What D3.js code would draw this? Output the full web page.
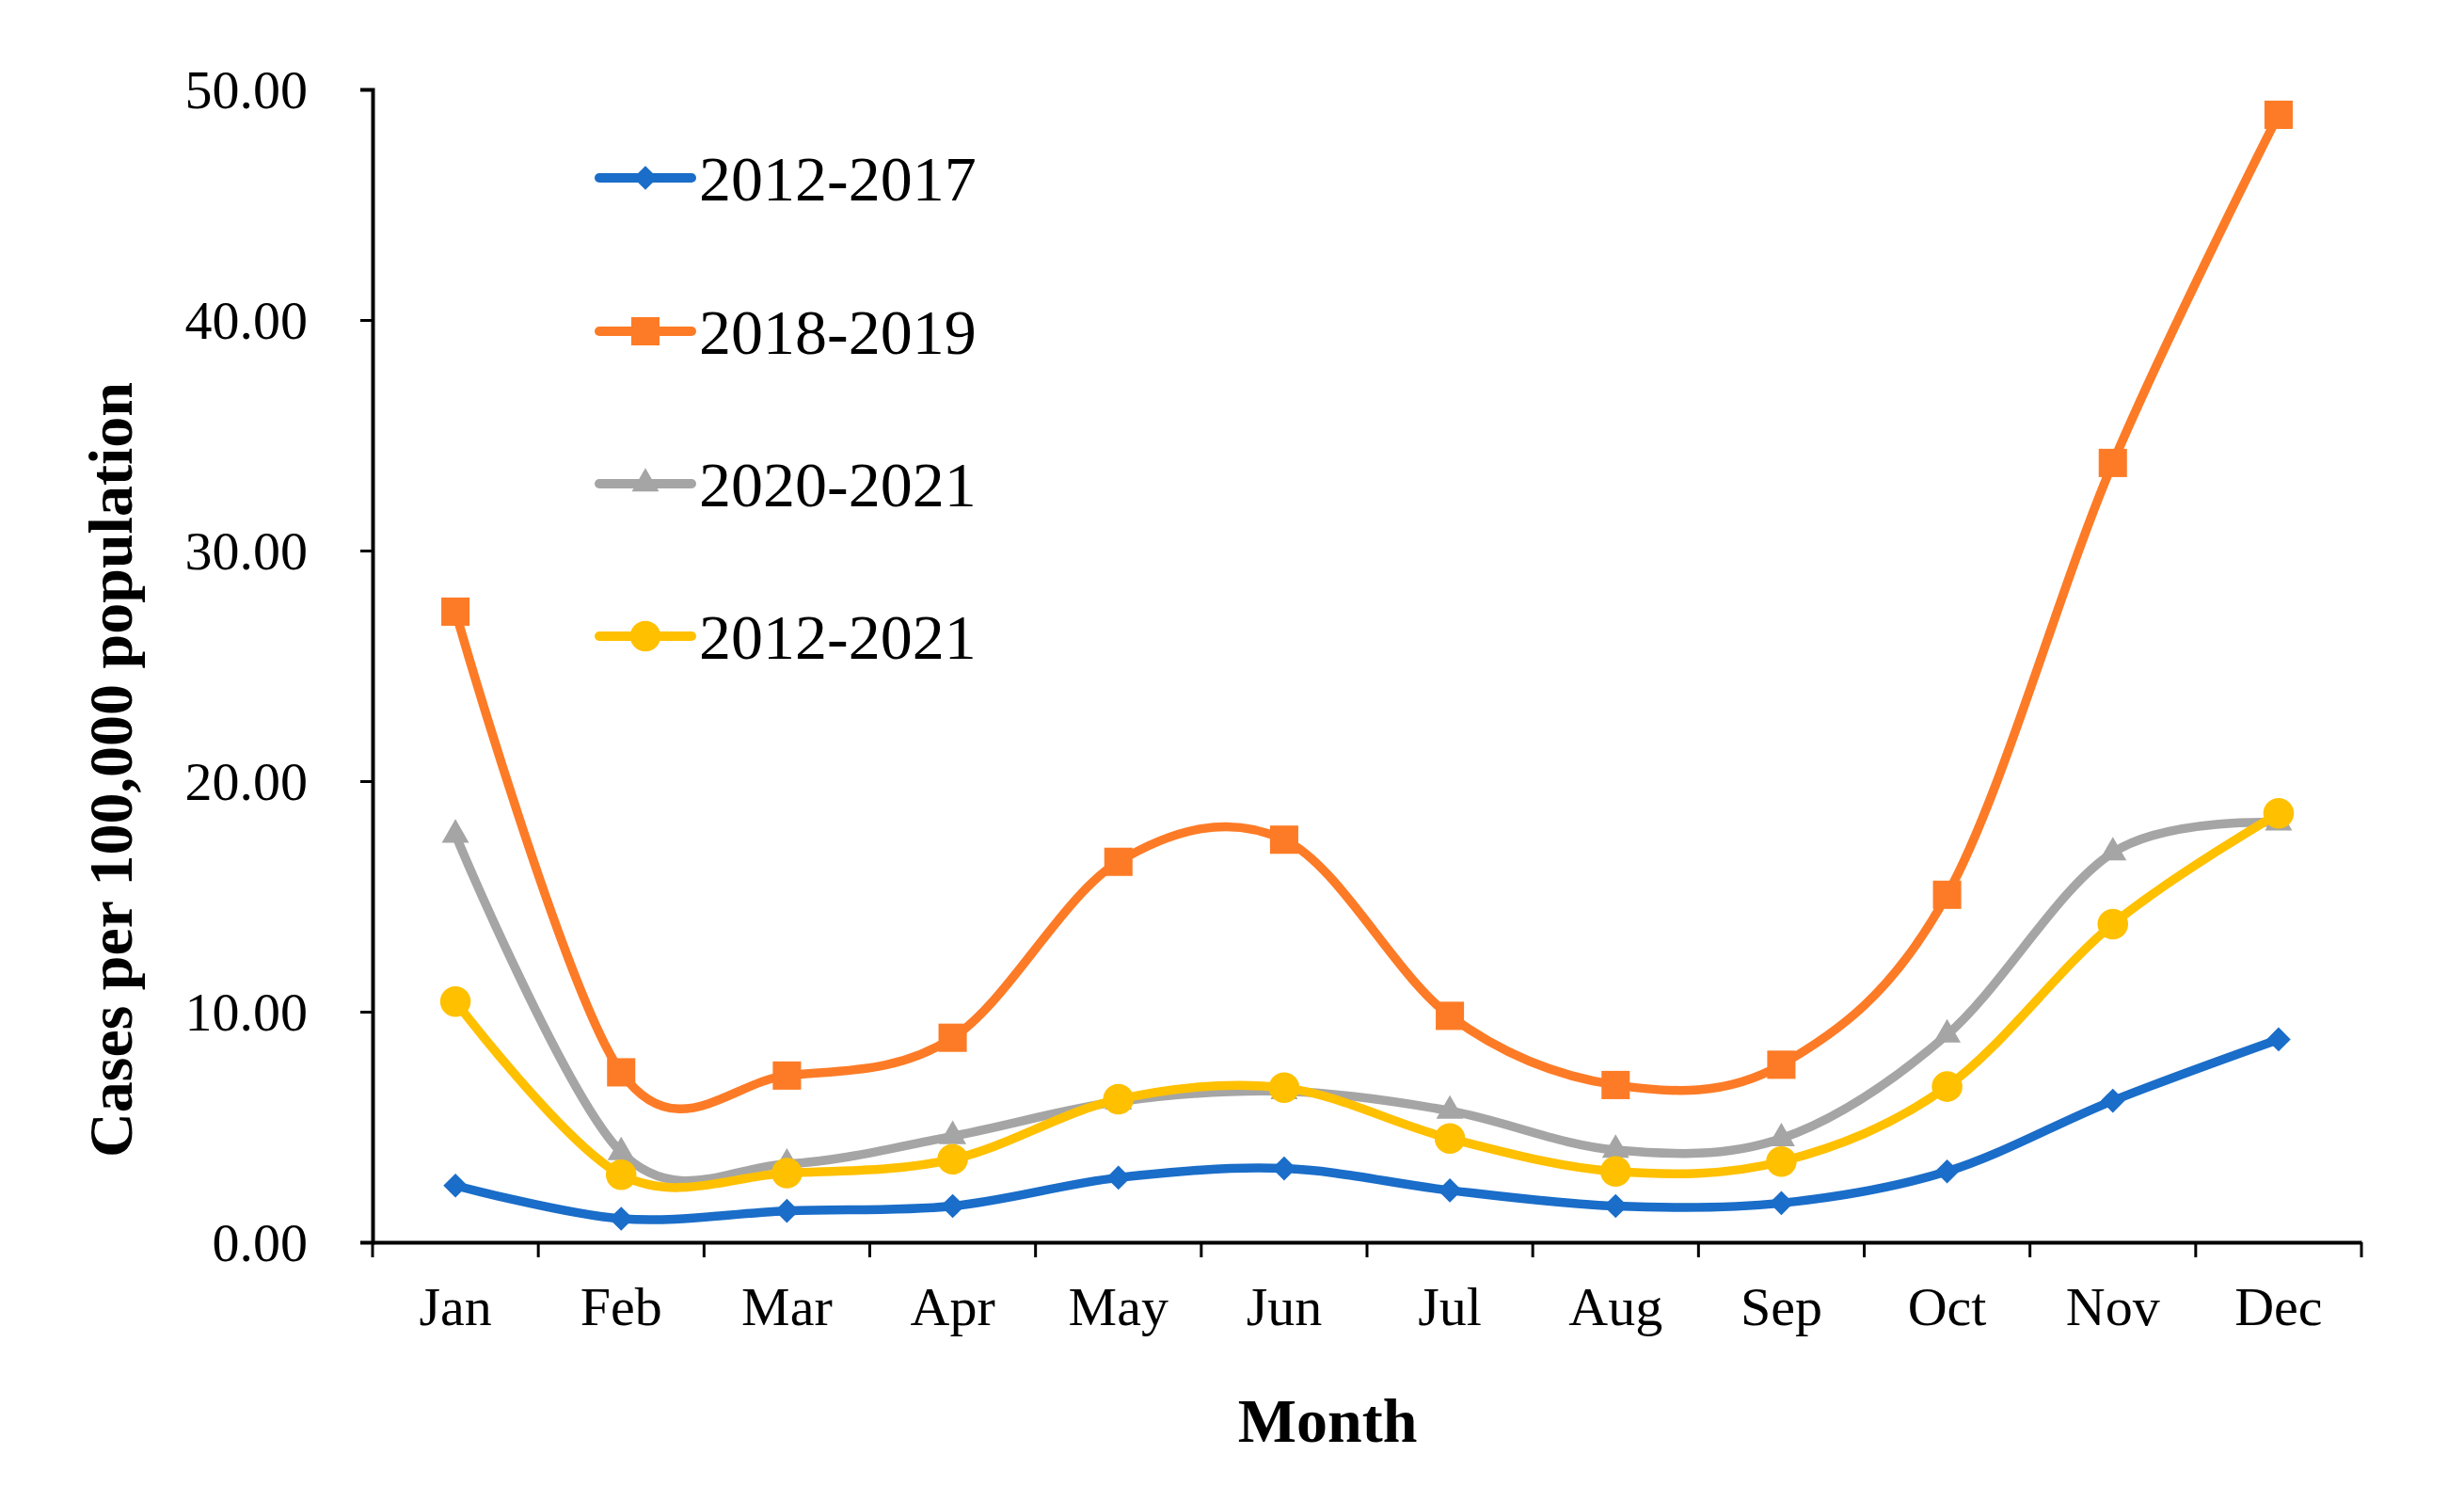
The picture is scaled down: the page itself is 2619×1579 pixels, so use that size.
<!DOCTYPE html>
<html><head><meta charset="utf-8">
<script src="https://cdn.jsdelivr.net/npm/d3@7"></script>
<style>body{margin:0;background:#fff;} text{font-family:"Liberation Serif","Times New Roman",serif;fill:#000;}</style>
</head><body>
<svg id="c" width="2619" height="1579"></svg>
<script>
const months = ["Jan","Feb","Mar","Apr","May","Jun","Jul","Aug","Sep","Oct","Nov","Dec"];
const seriesNames = ["2012-2017","2018-2019","2020-2021","2012-2021"];
const s2012_2017 = [2.46,1.02,1.36,1.57,2.8,3.2,2.25,1.57,1.7,3.07,6.14,8.8];
const s2018_2019 = [27.35,7.37,7.23,8.87,16.5,17.46,9.82,6.82,7.7,15.07,33.8,48.9];
const s2020_2021 = [17.67,3.9,3.4,4.6,6.1,6.55,5.7,4.0,4.5,9.0,16.9,18.2];
const s2012_2021 = [10.44,2.93,3.0,3.6,6.2,6.7,4.5,3.07,3.5,6.75,13.8,18.6];
const yTicks = [0,10,20,30,40,50];

const colors = ["#1a6dc8","#fd7b26","#a5a5a5","#ffc000"];
const symbols = [d3.symbolDiamond2, d3.symbolSquare2, d3.symbolTriangle2, d3.symbolCircle];
const symSize = [420, 1150, 600, 830];
const allSeries = [s2012_2017, s2018_2019, s2020_2021, s2012_2021];

const svg = d3.select("#c");
const L = 396, R = 2510, T = 95, B = 1320;
const x = d3.scaleBand().domain(months).range([L, R]);
const y = d3.scaleLinear().domain([0, 50]).range([B, T]);

// Y axis
const ya = svg.append("g").attr("transform", `translate(${L},0)`)
  .call(d3.axisLeft(y).tickValues(yTicks).tickFormat(d3.format(".2f")).tickSize(13).tickPadding(56));
ya.select(".domain").attr("stroke", "#000").attr("stroke-width", 4);
ya.selectAll(".tick line").attr("stroke", "#000").attr("stroke-width", 3);
ya.selectAll(".tick text").style("font-size", "58px").attr("dy", "0.33em");

// X axis
const xa = svg.append("g").attr("transform", `translate(0,${B})`)
  .call(d3.axisBottom(x).tickSize(0).tickPadding(0));
xa.select(".domain").attr("stroke", "#000").attr("stroke-width", 4);
xa.selectAll(".tick text").style("font-size", "58px").attr("y", 88).attr("dy", 0);
// boundary ticks
const bounds = d3.range(months.length + 1).map(i => L + i * x.bandwidth());
svg.append("g").selectAll("line").data(bounds).join("line")
  .attr("x1", d => d).attr("x2", d => d).attr("y1", B).attr("y2", B + 16)
  .attr("stroke", "#000").attr("stroke-width", 3);

// titles
svg.append("text").attr("x", 1411).attr("y", 1532).attr("text-anchor", "middle")
  .style("font-size", "66px").style("font-weight", "bold").text("Month");
svg.append("text").attr("transform", "translate(140,818) rotate(-90)").attr("text-anchor", "middle")
  .style("font-size", "66px").style("font-weight", "bold").text("Cases per 100,000 population");

// lines
const line = d3.line().x((d, i) => x(months[i]) + x.bandwidth() / 2).y(d => y(d))
  .curve(d3.curveCardinal.tension(0));
allSeries.forEach((s, k) => {
  const g = svg.append("g");
  g.append("path").attr("d", line(s)).attr("fill", "none").attr("stroke", colors[k])
    .attr("stroke-width", 9.5).attr("stroke-linejoin", "round").attr("stroke-linecap", "round");
  g.selectAll("path.m").data(s).join("path").attr("class", "m")
    .attr("transform", (d, i) => `translate(${x(months[i]) + x.bandwidth() / 2},${y(d)})`)
    .attr("d", d3.symbol().type(symbols[k]).size(symSize[k])).attr("fill", colors[k]);
});

// legend
const legY = [189, 352, 514, 676];
seriesNames.forEach((n, k) => {
  const g = svg.append("g").attr("transform", `translate(0,${legY[k]})`);
  g.append("line").attr("x1", 637).attr("x2", 735).attr("y1", 0).attr("y2", 0)
    .attr("stroke", colors[k]).attr("stroke-width", 10).attr("stroke-linecap", "round");
  g.append("path").attr("transform", "translate(686,0)")
    .attr("d", d3.symbol().type(symbols[k]).size(symSize[k])).attr("fill", colors[k]);
  g.append("text").attr("x", 743).attr("y", 0).attr("dy", "0.35em")
    .style("font-size", "68px").text(n);
});
</script>
</body></html>
